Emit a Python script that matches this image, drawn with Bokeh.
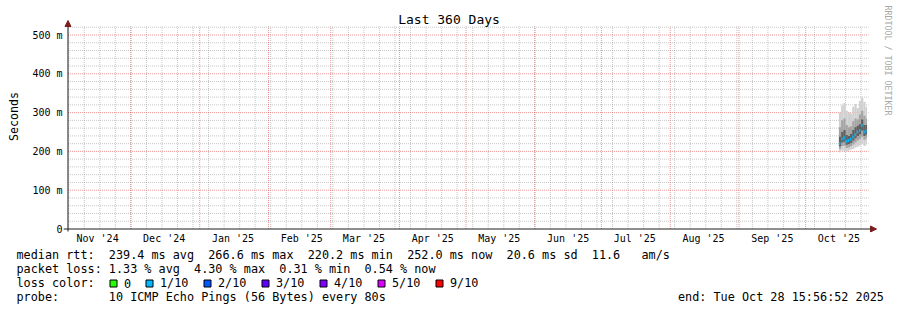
import math
import pandas as pd
from bokeh.plotting import figure
from bokeh.layouts import column
from bokeh.models import (FixedTicker, Arrow, NormalHead, Range1d, Title, ColumnDataSource)
from bokeh.core.properties import value
from bokeh.embed import file_html
from bokeh.resources import INLINE

# ---------------- data ----------------
END_TIME = "2025-10-28 15:56:52"
SPAN_DAYS = 360

step_start = ["2025-10-16", "2025-10-17", "2025-10-18", "2025-10-19", "2025-10-20",
              "2025-10-21", "2025-10-22", "2025-10-23", "2025-10-24", "2025-10-25",
              "2025-10-26", "2025-10-27", "2025-10-28"]
median_rtt = [220.2, 232.0, 235.0, 226.0, 228.0, 231.0, 237.0, 243.0, 250.0, 254.0, 266.6, 250.0, 252.0]
smoke_lo1 = [198, 203, 200, 199, 202, 205, 206, 210, 212, 215, 220, 214, 218]
smoke_hi1 = [300, 318, 325, 305, 300, 298, 315, 322, 312, 330, 338, 328, 315]
smoke_lo2 = [207, 214, 214, 209, 211, 214, 218, 223, 228, 232, 238, 230, 233]
smoke_hi2 = [262, 280, 285, 268, 262, 265, 278, 285, 282, 295, 305, 292, 285]
smoke_lo3 = [213, 223, 225, 217, 219, 222, 228, 234, 240, 244, 254, 240, 243]
smoke_hi3 = [238, 250, 255, 242, 240, 245, 255, 262, 266, 270, 282, 268, 268]
loss_count = [1, 1, 1, 1, 1, 1, 1, 1, 1, 1, 1, 1, 1]

loss_levels = ["0", "1/10", "2/10", "3/10", "4/10", "5/10", "9/10"]
loss_thresholds = [0, 1, 2, 3, 4, 5, 9]
loss_colors = ["#26ff00", "#00b8ff", "#0059ff", "#5e00ff", "#7e00ff", "#dd00ff", "#ff0000"]

y_ticks = [0, 100, 200, 300, 400, 500]
y_tick_labels = ["0", "100 m", "200 m", "300 m", "400 m", "500 m"]
month_names = ["Nov '24", "Dec '24", "Jan '25", "Feb '25", "Mar '25", "Apr '25",
               "May '25", "Jun '25", "Jul '25", "Aug '25", "Sep '25", "Oct '25"]

title_text = "Last 360 Days"
y_label = "Seconds"
legend_rtt = "median rtt:  239.4 ms avg  266.6 ms max  220.2 ms min  252.0 ms now  20.6 ms sd  11.6   am/s"
legend_loss = "packet loss: 1.33 % avg  4.30 % max  0.31 % min  0.54 % now"
legend_color = "loss color:"
legend_probe = "probe:       10 ICMP Echo Pings (56 Bytes) every 80s"
legend_end = "end: Tue Oct 28 15:56:52 2025"
watermark = "RRDTOOL / TOBI OETIKER"

# ---------------- helpers ----------------
DAY = 86400000


def ms(ts):
    return int(pd.Timestamp(ts).value // 10**6)


end_ms = ms(END_TIME)
start_ms = end_ms - SPAN_DAYS * DAY

W = 897
HA, HB = 248, 62            # chart figure / legend figure heights
FL, FR, FT, FB = 62, 897, 0, 232   # chart frame edges (page px)
X0PX, XSPAN = 66.5, 800     # pixel of start time, pixels per 360 days
Y0PX, PXPMS = 228.5, 0.388  # pixel of 0 ms, pixels per ms
TDY = -4                    # baseline correction for text glyphs (px)


def px2x(px):
    return start_ms + (px - X0PX) * (end_ms - start_ms) / XSPAN


def px2y(py):
    return (Y0PX - py) / PXPMS


def keep_spaces(s):
    return s.replace(" ", "\u00a0")


FONT = "DejaVu Sans Mono"

month_starts = pd.date_range("2024-11-01", "2025-10-01", freq="MS")
label_ticks = [ms(m + pd.Timedelta(days=15)) for m in month_starts]
major_v = [ms(m) for m in month_starts if start_ms <= ms(m) <= end_ms]
week_v = [ms(d) for d in pd.date_range("2024-11-03", "2025-10-26", freq="7D")
          if start_ms <= ms(d) <= end_ms]
y_minor = [v for v in range(20, 521, 20) if v % 100 != 0]

left = [ms(d) for d in step_start]
right = [min(l + DAY, end_ms) for l in left]


def loss_color(n):
    c = loss_colors[0]
    for t, col in zip(loss_thresholds, loss_colors):
        if n >= t:
            c = col
    return c


HALF = 1.5 / PXPMS
src = ColumnDataSource(dict(
    left=left, right=right,
    mright=[l + 0.65 * (r - l) for l, r in zip(left, right)],
    lo1=smoke_lo1, hi1=smoke_hi1, lo2=smoke_lo2, hi2=smoke_hi2,
    lo3=smoke_lo3, hi3=smoke_hi3,
    mlo=[m - HALF for m in median_rtt], mhi=[m + HALF for m in median_rtt],
    mcol=[loss_color(n) for n in loss_count],
))

# ---------------- chart figure ----------------
p = figure(width=W, height=HA,
           x_range=Range1d(px2x(FL), px2x(FR)), y_range=Range1d(px2y(FB), px2y(FT)),
           min_border_left=FL, min_border_right=W - FR, min_border_top=FT,
           min_border_bottom=HA - FB, toolbar_location=None, output_backend="svg")
p.frame_align = False
p.outline_line_color = None
p.background_fill_color = "white"
p.border_fill_color = "white"
p.xgrid.visible = False
p.ygrid.visible = False

YTOP = px2y(26)      # top of the graph area
XRIGHT = px2x(868)   # right end of the graph area
GY0 = px2y(228.5)
GX0 = px2x(66.5)

MINOR = dict(line_color="#8f8f8f", line_alpha=0.5, line_dash="1 1", line_width=1)
MAJOR = dict(line_color="#de5050", line_alpha=0.6, line_dash="1 1", line_width=1)
p.segment(x0=week_v, y0=GY0, x1=week_v, y1=YTOP, **MINOR)
p.segment(x0=GX0, y0=y_minor, x1=XRIGHT, y1=y_minor, **MINOR)
p.segment(x0=major_v, y0=GY0, x1=major_v, y1=YTOP, **MAJOR)
p.segment(x0=GX0, y0=y_ticks[1:], x1=XRIGHT, y1=y_ticks[1:], **MAJOR)

# smoke and median
p.quad(left="left", right="right", bottom="lo1", top="hi1", source=src,
       fill_color="#d0d0d0", line_color=None)
p.quad(left="left", right="right", bottom="lo2", top="hi2", source=src,
       fill_color="#a4a4a4", line_color=None)
p.quad(left="left", right="right", bottom="lo3", top="hi3", source=src,
       fill_color="#606060", line_color=None)
p.quad(left="left", right="mright", bottom="mlo", top="mhi", source=src,
       fill_color="mcol", line_color=None)

# axes (labels only)
p.xaxis.ticker = FixedTicker(ticks=label_ticks)
p.xaxis.major_label_overrides = {t: lab for t, lab in zip(label_ticks, month_names)}
p.yaxis.ticker = FixedTicker(ticks=y_ticks)
p.yaxis.major_label_overrides = {t: lab for t, lab in zip(y_ticks, y_tick_labels)}
for ax in (p.xaxis[0], p.yaxis[0]):
    ax.axis_line_color = None
    ax.major_tick_line_color = None
    ax.minor_tick_line_color = None
    ax.major_tick_out = 0
    ax.major_tick_in = 0
    ax.major_label_text_font = FONT
    ax.major_label_text_font_size = "10px"
    ax.major_label_text_color = "black"
p.xaxis.major_label_standoff = 0
p.yaxis.major_label_standoff = 1

p.add_layout(Title(text=y_label, align="center", offset=-10, standoff=13,
                   vertical_align="top",
                   text_font=FONT, text_font_size="11.6px", text_font_style="normal",
                   text_color="black"), "left")

# axis lines with arrows
AXIS = "#1e1e1e"
ARROW = "#7f1f1f"
p.add_layout(Arrow(end=NormalHead(size=6, fill_color=ARROW, line_color=ARROW, line_width=1),
                   x_start=px2x(62), y_start=0, x_end=px2x(876), y_end=0,
                   line_color=AXIS, line_width=1))
p.add_layout(Arrow(end=NormalHead(size=6, fill_color=ARROW, line_color=ARROW, line_width=1),
                   x_start=start_ms, y_start=px2y(231), x_end=start_ms, y_end=px2y(20),
                   line_color=AXIS, line_width=1))

# title and watermark
p.text(x=[px2x(448)], y=[px2y(23 + TDY)], text=[title_text], text_align="center",
       text_baseline="alphabetic", text_font=value(FONT), text_font_size=value("13px"),
       text_color="black")
p.text(x=[px2x(887.5)], y=[px2y(5)], text=[watermark], angle=-math.pi / 2,
       text_align="left", text_baseline="middle", text_font=value(FONT),
       text_font_size=value("8.3px"), text_color="#a8a8a8")

# ---------------- legend figure ----------------
q = figure(width=W, height=HB, x_range=Range1d(0, W), y_range=Range1d(HA + HB, HA),
           min_border=0, min_border_left=0, min_border_right=0, min_border_top=0,
           min_border_bottom=0, toolbar_location=None, output_backend="svg",
           x_axis_location=None, y_axis_location=None)
q.frame_align = False
q.outline_line_color = None
q.xgrid.visible = False
q.ygrid.visible = False
q.background_fill_color = "white"
q.border_fill_color = "white"

LF = value("11.8px")
base = [258.5, 272.5, 286.5, 300.5, 300.5]
q.text(x=[16, 16, 16, 16, 677.5], y=[b + TDY for b in base],
       text=[keep_spaces(s) for s in (legend_rtt, legend_loss, legend_color,
                                      legend_probe, legend_end)],
       text_align="left", text_baseline="alphabetic", text_font=value(FONT),
       text_font_size=LF, text_color="black")

sq_left = [109.5, 145.5, 203.5, 261.5, 319.5, 377.5, 435.5]
q.quad(left=sq_left, right=[s + 7 for s in sq_left], top=[279.5] * len(sq_left),
       bottom=[286.5] * len(sq_left), fill_color=loss_colors, line_color="black",
       line_width=1)
q.text(x=[s + 14 for s in sq_left], y=[286.5 + TDY] * len(sq_left), text=loss_levels,
       text_align="left", text_baseline="alphabetic", text_font=value(FONT),
       text_font_size=LF, text_color="black")

open("out.html", "w").write(file_html(column(p, q, spacing=0), INLINE))
